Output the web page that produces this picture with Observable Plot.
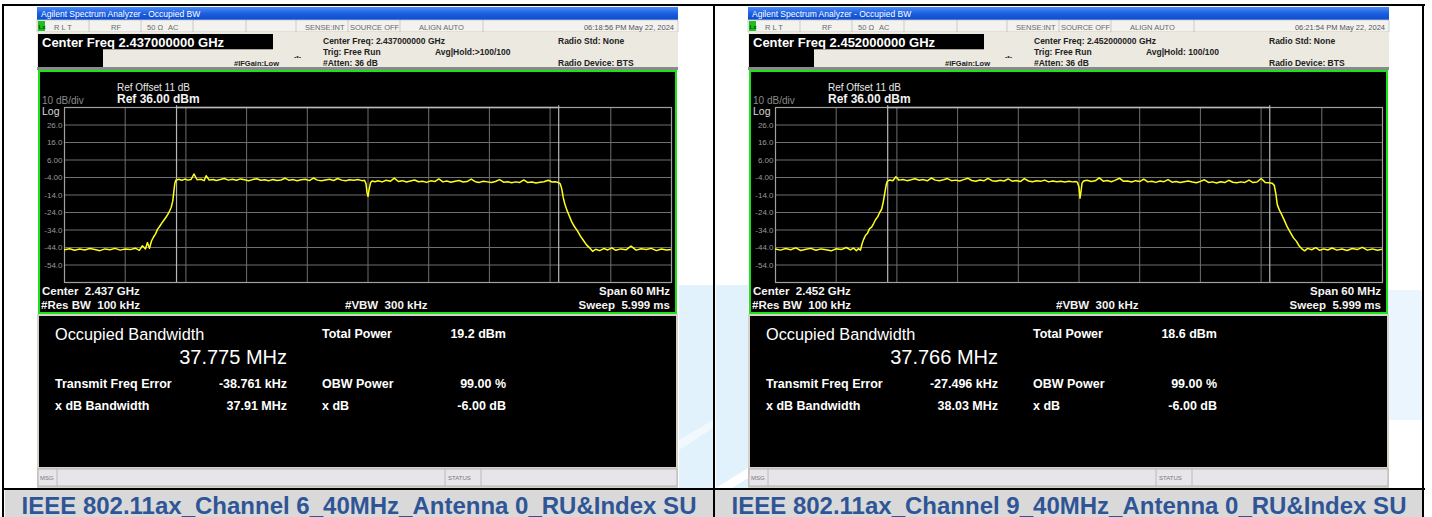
<!DOCTYPE html>
<html><head><meta charset="utf-8">
<script src="https://cdn.jsdelivr.net/npm/d3@7"></script>
<script src="https://cdn.jsdelivr.net/npm/@observablehq/plot@0.6"></script>
<style>
body{margin:0;background:#fff;}
#page{position:relative;width:1432px;height:517px;overflow:hidden;font-family:"Liberation Sans",Arial,sans-serif;}
svg.chrome{position:absolute;left:0;top:0;}
.spec{position:absolute;width:635px;height:240px;}
.spec svg{display:block;max-width:none;}
</style></head><body><div id="page"></div>
<script>
// ---------------- data ----------------
const captions = ["IEEE 802.11ax_Channel 6_40MHz_Antenna 0_RU&Index SU", "IEEE 802.11ax_Channel 9_40MHz_Antenna 0_RU&Index SU"];
const centerFreqText = ["2.437000000", "2.452000000"];
const centerShort = ["2.437", "2.452"];
const timestamps = ["06:18:56 PM May 22, 2024", "06:21:54 PM May 22, 2024"];
const avgHold = ["Avg|Hold:>100/100", "Avg|Hold: 100/100"];
const occupiedBW = [37.775, 37.766];      // MHz
const totalPower = [19.2, 18.6];          // dBm
const freqErrorKHz = [-38.761, -27.496];  // kHz
const xdBBandwidth = [37.91, 38.03];      // MHz
const obwPower = ["99.00 %", "99.00 %"];
const xdB = ["-6.00 dB", "-6.00 dB"];
const yTicks = [26, 16, 6, -4, -14, -24, -34, -44, -54];
const yGrid = [36, 26, 16, 6, -4, -14, -24, -34, -44, -54, -64];
const xGrid = [-30, -24, -18, -12, -6, 0, 6, 12, 18, 24, 30]; // MHz offset
const refLevel = 36, bottomLevel = -64, halfSpan = 30;

const ch6Offset = [-30,-29.5,-29,-28.5,-28,-27.5,-27,-26.5,-26,-25.5,-25,-24.5,-24,-23.5,-23,-22.6,-22.3,-22,-21.8,-21.6,-21.4,-21.2,-21,-20.8,-20.6,-20.4,-20.2,-20,-19.8,-19.6,-19.45,-19.3,-19.2,-19.1,-19,-18.7,-18.4,-18.1,-17.8,-17.5,-17.2,-16.9,-16.5,-16.2,-16,-15.7,-15.3,-15,-14.6,-14.2,-13.8,-13.4,-13,-12.6,-12.2,-11.8,-11.4,-11,-10.6,-10.2,-9.8,-9.4,-9,-8.6,-8.2,-7.8,-7.4,-7,-6.6,-6.2,-5.8,-5.4,-5,-4.6,-4.2,-3.8,-3.4,-3,-2.6,-2.2,-1.8,-1.4,-1,-0.6,-0.35,-0.2,-0.1,0,0.12,0.25,0.4,0.7,1,1.4,1.8,2.2,2.6,3,3.4,3.8,4.2,4.6,5,5.4,5.8,6.2,6.6,7,7.4,7.8,8.2,8.6,9,9.4,9.8,10.2,10.6,11,11.4,11.8,12.2,12.6,13,13.4,13.8,14.2,14.6,15,15.4,15.8,16.2,16.6,17,17.4,17.8,18.2,18.5,18.8,19,19.15,19.3,19.45,19.65,19.9,20.15,20.4,20.7,21,21.3,21.6,21.9,22.2,22.5,22.9,23.3,23.7,24.1,24.5,25,25.5,26,26.5,27,27.5,28,28.5,29,29.5,30];
const ch6Level = [-45.3,-44.7,-45.6,-44.9,-45.4,-44.6,-45.2,-45.8,-44.8,-45.3,-44.5,-45.5,-44.9,-45.2,-44.4,-45.6,-43.0,-44.8,-41.2,-44.5,-40.3,-38.0,-36.2,-33.5,-32.0,-30.2,-28.6,-27.0,-25.2,-23.0,-21.0,-17.5,-12.5,-7.5,-5.6,-5.0,-5.6,-4.9,-5.5,-5.2,-2.0,-5.3,-5.0,-5.8,-3.0,-5.4,-5.1,-5.7,-5.2,-4.6,-5.5,-5.0,-5.6,-4.8,-5.3,-5.9,-5.2,-4.7,-5.6,-5.3,-5.8,-5.1,-5.7,-5.4,-4.4,-5.6,-5.2,-5.9,-5.3,-5.0,-5.8,-4.3,-5.5,-5.9,-5.4,-5.0,-5.7,-4.6,-5.5,-5.9,-5.3,-5.6,-5.1,-5.8,-5.6,-7.5,-12.5,-14.8,-10.5,-7.0,-6.0,-6.4,-5.9,-6.5,-5.6,-6.2,-4.4,-6.3,-5.8,-6.6,-6.0,-5.4,-6.4,-6.1,-6.8,-5.9,-6.3,-4.8,-6.5,-6.0,-6.7,-6.2,-5.7,-6.6,-6.3,-4.9,-6.4,-6.8,-6.1,-6.5,-6.9,-6.3,-5.2,-6.7,-6.4,-7.0,-6.5,-6.8,-5.4,-6.9,-6.6,-7.1,-6.7,-6.4,-5.6,-6.6,-6.4,-6.8,-7.6,-10.5,-15.5,-19.0,-22.5,-26.0,-29.5,-32.0,-34.5,-37.5,-40.0,-42.5,-44.2,-46.2,-45.0,-45.8,-44.6,-45.4,-44.2,-45.6,-44.8,-45.3,-43.2,-45.5,-44.7,-45.2,-44.5,-45.8,-44.9,-45.4,-45.1];

const ch9Offset = [-30,-29.5,-29,-28.5,-28,-27.5,-27,-26.5,-26,-25.5,-25,-24.5,-24,-23.5,-23,-22.6,-22.3,-22,-21.8,-21.6,-21.45,-21.3,-21.1,-20.9,-20.7,-20.5,-20.3,-20.1,-19.9,-19.7,-19.5,-19.35,-19.2,-19.05,-18.95,-18.7,-18.4,-18.1,-17.8,-17.4,-17,-16.6,-16.2,-15.8,-15.4,-15,-14.6,-14.2,-13.8,-13.4,-13,-12.6,-12.2,-11.8,-11.4,-11,-10.6,-10.2,-9.8,-9.4,-9,-8.6,-8.2,-7.8,-7.4,-7,-6.6,-6.2,-5.8,-5.4,-5,-4.6,-4.2,-3.8,-3.4,-3,-2.6,-2.2,-1.8,-1.4,-1,-0.6,-0.3,-0.15,0,0.1,0.2,0.3,0.45,0.8,1.2,1.6,2,2.4,2.8,3.2,3.6,4,4.4,4.8,5.2,5.6,6,6.4,6.8,7.2,7.6,8,8.4,8.8,9.2,9.6,10,10.4,10.8,11.2,11.6,12,12.4,12.8,13.2,13.6,14,14.4,14.8,15.2,15.6,16,16.4,16.8,17.2,17.6,18,18.4,18.8,19.1,19.3,19.45,19.6,19.8,20,20.3,20.6,20.9,21.2,21.5,21.75,22,22.3,22.6,23,23.4,23.8,24.2,24.6,25,25.5,26,26.5,27,27.5,28,28.5,29,29.5,30];
const ch9Level = [-44.9,-45.5,-44.6,-45.3,-44.2,-45.7,-45.0,-44.5,-45.6,-44.8,-45.3,-45.9,-44.7,-45.2,-44.0,-45.4,-44.3,-45.8,-44.6,-45.5,-42.0,-39.5,-37.0,-35.8,-33.2,-32.4,-30.3,-28.0,-26.5,-24.0,-22.0,-18.0,-13.0,-8.0,-6.2,-5.4,-5.9,-3.6,-5.5,-5.1,-5.8,-5.3,-4.7,-5.6,-5.2,-5.9,-4.3,-5.5,-5.9,-5.3,-4.6,-5.8,-5.5,-6.0,-5.2,-4.4,-5.7,-6.1,-5.4,-5.9,-4.5,-5.8,-6.2,-5.6,-6.0,-4.8,-6.1,-5.7,-6.3,-4.6,-6.0,-6.4,-5.8,-6.2,-5.5,-6.5,-6.0,-6.4,-6.1,-6.6,-6.2,-6.5,-6.3,-6.8,-9.5,-15.8,-12.0,-7.2,-6.0,-5.6,-6.3,-5.9,-4.2,-6.1,-5.7,-6.4,-5.5,-4.4,-6.2,-6.0,-6.6,-5.8,-6.3,-4.9,-6.5,-6.1,-6.8,-6.0,-6.4,-5.2,-6.7,-6.3,-6.9,-6.4,-6.0,-6.6,-7.0,-6.2,-5.3,-6.8,-6.5,-7.1,-6.4,-6.9,-5.6,-6.7,-7.0,-6.5,-6.8,-5.5,-6.9,-6.6,-4.6,-6.8,-7.0,-7.3,-8.5,-13.0,-19.5,-22.5,-24.8,-28.5,-32.4,-35.5,-38.5,-40.5,-43.0,-44.6,-45.9,-44.5,-45.3,-44.1,-45.6,-44.8,-45.4,-44.3,-45.5,-44.9,-45.7,-44.6,-45.2,-43.9,-45.5,-44.8,-45.6,-45.0];

const traces = [[ch6Offset, ch6Level], [ch9Offset, ch9Level]];

// ---------------- layout ----------------
const FONT = "Liberation Sans, Arial, sans-serif";
const PANEL_X = [37, 748];
const page = d3.select("#page");
const back = page.append("svg").attr("class", "chrome").attr("width", 1432).attr("height", 517);
const defs = back.append("defs");
const grad = defs.append("linearGradient").attr("id", "tb").attr("x1", 0).attr("x2", 0).attr("y1", 0).attr("y2", 1);
grad.append("stop").attr("offset", 0).attr("stop-color", "#4a8cf6");
grad.append("stop").attr("offset", 0.5).attr("stop-color", "#1c5fe0");
grad.append("stop").attr("offset", 1).attr("stop-color", "#0a4bd0");

function rect(g, x, y, w, h, fill, stroke, sw) {
  const r = g.append("rect").attr("x", x).attr("y", y).attr("width", w).attr("height", h).attr("fill", fill || "none");
  if (stroke) r.attr("stroke", stroke).attr("stroke-width", sw || 1);
  return r;
}
function txt(g, x, y, s, size, fill, weight, anchor) {
  return g.append("text").attr("x", x).attr("y", y).text(s)
    .attr("font-size", size).attr("fill", fill || "#000").attr("font-weight", weight || "normal")
    .attr("text-anchor", anchor || "start").attr("font-family", FONT)
    .style("white-space", "pre");
}
function line(g, x1, y1, x2, y2, stroke, sw) {
  return g.append("line").attr("x1", x1).attr("y1", y1).attr("x2", x2).attr("y2", y2).attr("stroke", stroke).attr("stroke-width", sw || 1);
}

// watermark (light blue background)
rect(back, 679, 285, 34, 203, "#e2f2fd");
rect(back, 716, 285, 32, 203, "#e2f2fd");
back.append("path").attr("d", "M716,488 L748,468 L748,478 L732,488 Z").attr("fill", "#ffffff");
back.append("path").attr("d", "M679,440 L713,420 L713,428 L679,450 Z").attr("fill", "#f2f9fe");
rect(back, 1388, 290, 34, 130, "#eaf5fd");

// table borders + caption
rect(back, 5, 490, 708, 27, "#d9d9d9");
rect(back, 715, 490, 707, 27, "#d9d9d9");
rect(back, 2, 4, 1423, 2, "#000");
rect(back, 2, 4, 2, 513, "#000");
rect(back, 713, 4, 2, 513, "#000");
rect(back, 1422, 4, 2, 513, "#000");
rect(back, 2, 488, 1423, 2, "#000");

const front = page.append("svg").attr("class", "chrome").attr("width", 1432).attr("height", 517).style("z-index", 3).style("pointer-events", "none");

captions.forEach((c, i) => {
  txt(front, i === 0 ? 359 : 1069, 513.5, c, 24, "#2f5597", "bold", "middle");
});

PANEL_X.forEach((px, i) => {
  const g = back.append("g");
  // title bar
  rect(g, px, 7, 641, 13, "url(#tb)");
  txt(g, px + 4, 16.5, "Agilent Spectrum Analyzer - Occupied BW", 8.5, "#ffffff");
  // status row
  rect(g, px, 20, 641, 12, "#f3f2ee", "#c9c6bd", 0.8);
  rect(g, px + 1, 21, 7, 10, "#1fbf1f");
  txt(g, px + 1.5, 29, "Lx", 6, "#064d06", "bold");
  [52, 104, 156, 209, 259, 311, 363, 446].forEach(s => line(g, px + s, 20, px + s, 32, "#c3c0b6", 0.8));
  const st = [["R L T", 17], ["RF", 74], ["50 Ω", 110], ["AC", 131], ["SENSE:INT", 268], ["SOURCE OFF", 313], ["ALIGN AUTO", 382]];
  st.forEach(([s, x]) => txt(g, px + x, 29.5, s, 7.5, "#6a6a6a"));
  txt(g, px + 637, 29.5, timestamps[i], 7.5, "#555", "normal", "end");
  // info area
  rect(g, px, 32, 641, 35, "#ece9e1");
  rect(g, px + 1, 34, 235, 15, "#000");
  txt(g, px + 5, 46.5, "Center Freq " + centerFreqText[i] + " GHz", 13, "#ffffff", "bold");
  rect(g, px + 1, 49, 65, 18, "#000");
  line(g, px + 66, 49.5, px + 236, 49.5, "#a9a69e", 1);
  txt(g, px + 197, 65.5, "#IFGain:Low", 7.5, "#222", "bold");
  txt(g, px + 257, 59, "-•-", 7, "#333", "bold");
  txt(g, px + 286, 43.5, "Center Freq: " + centerFreqText[i] + " GHz", 8.5, "#222", "bold");
  txt(g, px + 286, 54.5, "Trig: Free Run", 8.5, "#222", "bold");
  txt(g, px + 286, 65.5, "#Atten: 36 dB", 8.5, "#222", "bold");
  txt(g, px + 398, 54.5, avgHold[i], 8.5, "#222", "bold");
  txt(g, px + 521, 43.5, "Radio Std: None", 8.5, "#222", "bold");
  txt(g, px + 521, 65.5, "Radio Device: BTS", 8.5, "#222", "bold");
  rect(g, px, 67, 641, 3, "#8a8a8a");
  // plot frame
  rect(g, px + 1, 70, 639, 244, "#18e418");
  rect(g, px + 3, 72, 635, 240, "#000");
  // results
  rect(g, px, 314, 641, 174, "#d4d1c8");
  rect(g, px + 2, 316, 637, 151, "#000");
  rect(g, px + 1, 469, 639, 17, "#e7e5ea", "#aaa", 0.8);
  txt(g, px + 3, 480, "MSG", 6, "#777");
  line(g, px + 20, 469, px + 20, 486, "#b0b0b0", 0.8);
  line(g, px + 408, 469, px + 408, 486, "#b0b0b0", 0.8);
  line(g, px + 444, 469, px + 444, 486, "#b0b0b0", 0.8);
  txt(g, px + 411, 480, "STATUS", 6, "#777");

  // overlay texts in the plot area
  const f = front.append("g");
  txt(f, px + 80, 90.5, "Ref Offset 11 dB", 10, "#e8e8e8");
  txt(f, px + 80, 103, "Ref 36.00 dBm", 12, "#f2f2f2", "bold");
  txt(f, px + 5, 104, "10 dB/div", 10, "#8a8a8a");
  txt(f, px + 5, 114.5, "Log", 10.5, "#d8d8d8");
  txt(f, px + 5, 295, "Center  " + centerShort[i] + " GHz", 11.5, "#f4f4f4", "bold");
  txt(f, px + 4, 309, "#Res BW  100 kHz", 11.5, "#f4f4f4", "bold");
  txt(f, px + 308, 309, "#VBW  300 kHz", 11.5, "#f4f4f4", "bold");
  txt(f, px + 633, 295, "Span 60 MHz", 11.5, "#f4f4f4", "bold", "end");
  txt(f, px + 633, 309, "Sweep  5.999 ms", 11.5, "#f4f4f4", "bold", "end");
  // results texts
  txt(f, px + 18, 340, "Occupied Bandwidth", 16.3, "#ffffff");
  txt(f, px + 250, 364, occupiedBW[i].toFixed(3) + " MHz", 20, "#ffffff", "normal", "end");
  txt(f, px + 285, 337.5, "Total Power", 12.5, "#ffffff", "bold");
  txt(f, px + 469, 337.5, totalPower[i].toFixed(1) + " dBm", 12.5, "#ffffff", "bold", "end");
  txt(f, px + 18, 387.5, "Transmit Freq Error", 12.5, "#ffffff", "bold");
  txt(f, px + 250, 387.5, freqErrorKHz[i].toFixed(3) + " kHz", 12.5, "#ffffff", "bold", "end");
  txt(f, px + 285, 387.5, "OBW Power", 12.5, "#ffffff", "bold");
  txt(f, px + 469, 387.5, obwPower[i], 12.5, "#ffffff", "bold", "end");
  txt(f, px + 18, 409.5, "x dB Bandwidth", 12.5, "#ffffff", "bold");
  txt(f, px + 250, 409.5, xdBBandwidth[i].toFixed(2) + " MHz", 12.5, "#ffffff", "bold", "end");
  txt(f, px + 285, 409.5, "x dB", 12.5, "#ffffff", "bold");
  txt(f, px + 469, 409.5, xdB[i], 12.5, "#ffffff", "bold", "end");

  // spectrum plot
  const [off, lev] = traces[i];
  const data = off.map((o, k) => ({f: o, l: lev[k]}));
  const err = freqErrorKHz[i] / 1000;
  const markers = [err - occupiedBW[i] / 2, err + occupiedBW[i] / 2];
  const fmt = d => Math.abs(d) >= 10 ? d.toFixed(1) : d.toFixed(2);
  const chart = Plot.plot({
    width: 635, height: 240,
    marginLeft: 24, marginRight: 4, marginTop: 35, marginBottom: 30,
    style: {background: "#000", fontFamily: FONT, color: "#9a9a9a", maxWidth: "none"},
    x: {domain: [-halfSpan, halfSpan], axis: null},
    y: {domain: [bottomLevel, refLevel], axis: null},
    marks: [
      Plot.ruleX(xGrid, {stroke: "#6f6f6f", strokeWidth: 1}),
      Plot.ruleY(yGrid, {stroke: "#6f6f6f", strokeWidth: 1}),
      Plot.frame({stroke: "#a0a0a0", strokeWidth: 1.2}),
      Plot.ruleX(markers, {y1: bottomLevel, y2: refLevel + 1, stroke: "#b8b8b8", strokeWidth: 1.2}),
      Plot.ruleY([refLevel], {x1: markers[0], x2: markers[1], stroke: "#bdbdbd", strokeWidth: 1.3}),
      Plot.line(data, {x: "f", y: "l", stroke: "#ffff1a", strokeWidth: 1.5, clip: true}),
      Plot.axisY(yTicks, {anchor: "left", tickSize: 0, tickPadding: 2, fontSize: 8, fill: "#9a9a9a", tickFormat: fmt, label: null})
    ]
  });
  const holder = page.append("div").attr("class", "spec").style("left", (px + 3) + "px").style("top", "72px").style("z-index", 2);
  holder.node().appendChild(chart);
});
</script></body></html>
